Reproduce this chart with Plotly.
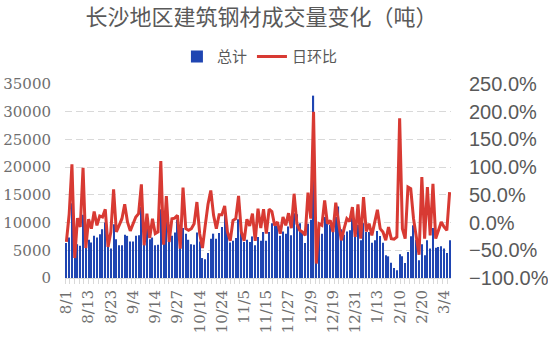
import plotly.graph_objects as go

# ---- data ----
tick_labels = ["8/1", "8/13", "8/23", "9/4", "9/14", "9/27", "10/14", "10/24", "11/5",
               "11/15", "11/27", "12/9", "12/19", "12/31", "1/13", "2/10", "2/20", "3/4"]
label_step = 8  # one date label every 8 trading days

total_volume = [
    6300, 7300, 13500, 4200, 6100, 5800, 11400, 5500, 6900, 6400,
    7600, 7300, 7900, 8800, 10000, 5800, 5300, 9700, 7000, 5900,
    5900, 7800, 7600, 6600, 6600, 7600, 7700, 12800, 6200, 9100,
    7000, 7300, 5900, 6000, 12400, 7400, 11000, 7100, 7600, 8200,
    10500, 5500, 9000, 8000, 6900, 6100, 6000, 8200, 6600, 3600,
    3400, 4500, 7100, 8000, 7100, 8100, 9200, 11500, 9600, 6400,
    6700, 7200, 10600, 9100, 6500, 6900, 6500, 7500, 5900, 7400,
    6700, 8300, 6700, 8300, 9900, 9400, 9500, 7600, 8400, 8000,
    9300, 7700, 11700, 11500, 9900, 8200, 6300, 9800, 10500, 32900,
    8600, 8500, 8000, 11000, 10000, 9600, 8400, 11000, 12900, 8800,
    7800, 8400, 8600, 11000, 8100, 9600, 6800, 9900, 8310, 8310,
    6380, 6800, 8490, 7590, 6380, 4090, 3910, 2770, 1810, 1390,
    4270, 3910, 2710, 4700, 7530, 9510, 6900, 3190, 6080, 4090,
    6800, 5300, 9030, 5480, 5600, 5720, 5300, 4500, 6800,
]

day_on_day_pct = [
    -35, 15, 105, -64, 8, -8, 99, -46, 6, -11,
    20, -5, 12, 10, 24, -44, -17, 60, -17, -4,
    7, 33, 1, -15, -2, 10, 16, 69, -41, 16,
    -28, 7, -20, -17, 111, -40, 48, -35, 7, 8,
    13, -47, 63, -11, -14, -11, -2, 37, -20, -46,
    -5, 33, 58, 13, -11, 14, 14, 30, -17, -33,
    4, 7, 48, -17, -33, 6, -6, 16, -33, 25,
    -10, 24, -20, 24, 20, -5, 1, -20, 10, -5,
    17, -10, 52, -2, -14, -17, -23, 54, 7, 200,
    -74, -2, -5, 40, -2, 4, -17, 36, 1, -32,
    -11, 7, 2, 28, -26, 33, -29, 46, -16, -2,
    -23, 1, 23, -11, -17, -32, -8, -29, -30, -26,
    188, -11, -29, 64, 61, 7, -29, -58, 82, -29,
    64, -23, 70, -29, -14, 1, -8, -14, 55,
]

n_days = len(total_volume)
day_pos = list(range(n_days))
tick_pos = [k * label_step for k in range(len(tick_labels))]

BLUE = "#1f45b2"
RED = "#d83a33"
GRID = "#d9d9d9"
TEXT = "#595959"
TICK = "#6e6e6e"

fig = go.Figure()
fig.add_trace(go.Bar(
    x=day_pos, y=total_volume, name="总计",
    marker=dict(color=BLUE, line=dict(width=0)),
))
fig.add_trace(go.Scatter(
    x=day_pos, y=day_on_day_pct, name="日环比", mode="lines",
    line=dict(color=RED, width=3), yaxis="y2",
))

fig.update_layout(
    width=548, height=340,
    margin=dict(l=65, r=97, t=84, b=62, autoexpand=False),
    paper_bgcolor="white", plot_bgcolor="white",
    bargap=0.58,
    title=dict(
        text="长沙地区建筑钢材成交量变化（吨）",
        x=0.477, xanchor="center", y=0.95, yanchor="middle",
        font=dict(family="Noto Sans CJK SC", size=22, color=TEXT),
    ),
    legend=dict(
        orientation="h", x=0.505, xanchor="center", y=1.14, yanchor="middle",
        font=dict(family="Noto Sans CJK SC", size=15, color=TEXT),
        itemwidth=30, bgcolor="rgba(0,0,0,0)",
    ),
    xaxis=dict(
        automargin=False,
        range=[-0.5, n_days - 0.5],
        tickmode="array", tickvals=tick_pos, ticktext=tick_labels,
        tickangle=-90, ticks="", ticklabelstandoff=5,
        tickfont=dict(family="DejaVu Serif", size=15, color=TICK),
        showgrid=False, zeroline=False,
        showline=True, linecolor=GRID, linewidth=1,
        minor=dict(ticks="outside", ticklen=5, tickcolor=GRID, dtick=1.7, tick0=-0.5, showgrid=False),
    ),
    yaxis=dict(
        automargin=False,
        range=[0, 35000], dtick=5000, tickformat="d",
        tickfont=dict(family="DejaVu Serif", size=15, color=TICK),
        showgrid=True, gridcolor=GRID, gridwidth=1, griddash="7px,4px",
        zeroline=False, showline=False, ticklabelstandoff=13,
    ),
    yaxis2=dict(
        automargin=False,
        overlaying="y", side="right",
        range=[-100, 250], dtick=50, tickformat=".1f", ticksuffix="%",
        tickfont=dict(family="Liberation Sans", size=20, color=TEXT),
        showgrid=False, zeroline=False, showline=False, ticklabelstandoff=17,
    ),
)

fig.write_html("out.html")
